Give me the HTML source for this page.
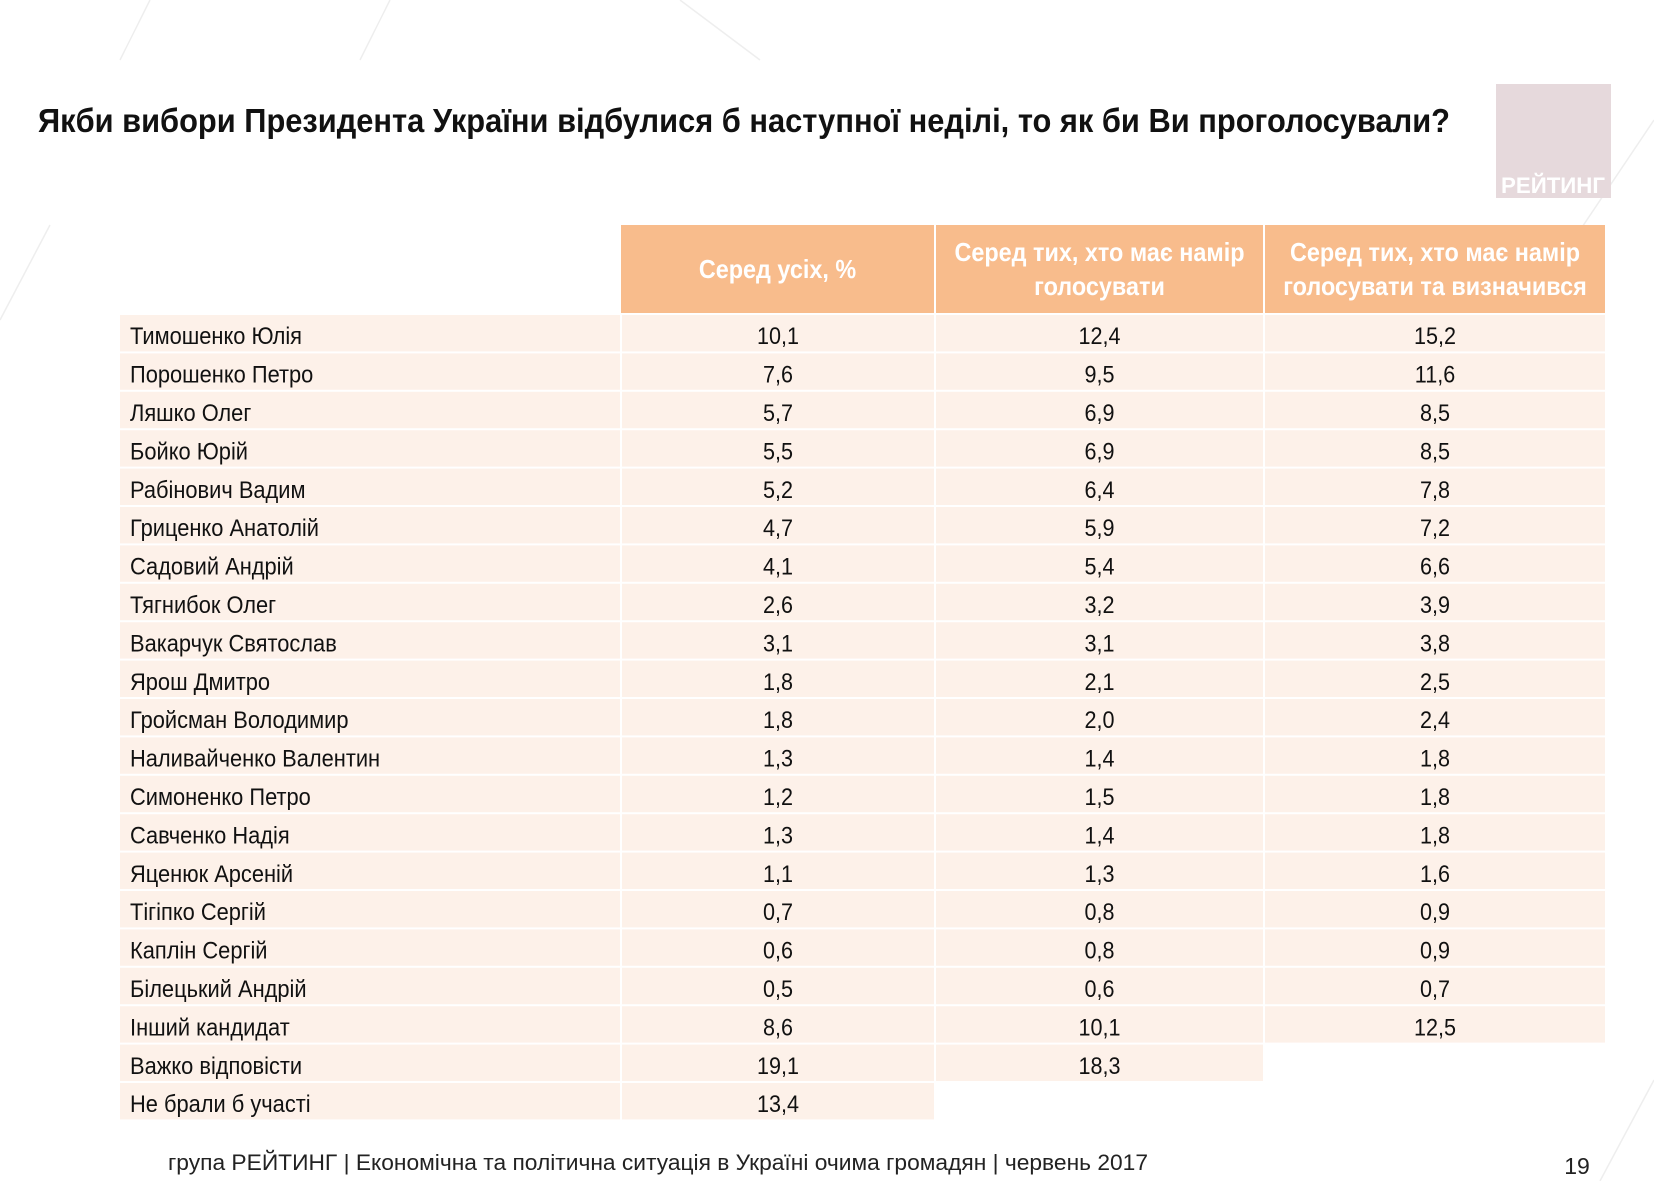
<!DOCTYPE html>
<html><head><meta charset="utf-8"><style>
html,body{margin:0;padding:0;background:#fff;}
svg{display:block;font-family:"Liberation Sans Narrow","Liberation Sans",sans-serif;}
</style></head><body>
<svg id="chart" width="1654" height="1181" viewBox="0 0 1654 1181" xmlns="http://www.w3.org/2000/svg">
<g stroke="#eeeeee" stroke-width="1.5">
<line x1="120" y1="60" x2="150" y2="0"/><line x1="360" y1="60" x2="390" y2="0"/><line x1="0" y1="320" x2="50" y2="225"/><line x1="1560" y1="260" x2="1654" y2="120"/><line x1="1600" y1="1181" x2="1654" y2="1080"/><line x1="680" y1="0" x2="760" y2="60"/>
</g>
<text x="38" y="132" font-size="33" font-weight="bold" fill="#111" textLength="1412" lengthAdjust="spacingAndGlyphs">Якби вибори Президента України відбулися б наступної неділі, то як би Ви проголосували?</text>
<g>
<rect x="1496" y="84" width="115" height="114" fill="#e6d9dc"/>
<text x="1553" y="193" font-size="22" font-weight="bold" fill="#fff" text-anchor="middle" textLength="104" lengthAdjust="spacingAndGlyphs">РЕЙТИНГ</text>
</g>
<g id="header"></g>
<g id="rows"></g>
<text x="168" y="1170" font-size="22" fill="#222" textLength="980" lengthAdjust="spacingAndGlyphs">група РЕЙТИНГ  |  Економічна та політична ситуація в Україні очима громадян  |  червень 2017</text>
<text x="1577" y="1174" font-size="23" fill="#222" text-anchor="middle">19</text>
</svg>
<script>
const names = ["Тимошенко Юлія","Порошенко Петро","Ляшко Олег","Бойко Юрій","Рабінович Вадим","Гриценко Анатолій","Садовий Андрій","Тягнибок Олег","Вакарчук Святослав","Ярош Дмитро","Гройсман Володимир","Наливайченко Валентин","Симоненко Петро","Савченко Надія","Яценюк Арсеній","Тігіпко Сергій","Каплін Сергій","Білецький Андрій","Інший кандидат","Важко відповісти","Не брали б участі"];
const allValues = [10.1,7.6,5.7,5.5,5.2,4.7,4.1,2.6,3.1,1.8,1.8,1.3,1.2,1.3,1.1,0.7,0.6,0.5,8.6,19.1,13.4];
const votersValues = [12.4,9.5,6.9,6.9,6.4,5.9,5.4,3.2,3.1,2.1,2.0,1.4,1.5,1.4,1.3,0.8,0.8,0.6,10.1,18.3,null];
const decidedValues = [15.2,11.6,8.5,8.5,7.8,7.2,6.6,3.9,3.8,2.5,2.4,1.8,1.8,1.8,1.6,0.9,0.9,0.7,12.5,null,null];
const headers = [["Серед усіх, %"],["Серед тих, хто має намір","голосувати"],["Серед тих, хто має намір","голосувати та визначився"]];

const NS="http://www.w3.org/2000/svg";
const colX=[120,621,935,1264,1606];
const headTop=225, headBot=313, rowTop=315, rowH=38.4;
function mk(tag,attrs,parent){const e=document.createElementNS(NS,tag);for(const k in attrs)e.setAttribute(k,attrs[k]);parent.appendChild(e);return e;}
function squeeze(t,f){const w=t.getComputedTextLength();t.setAttribute('textLength',(w*f).toFixed(1));t.setAttribute('lengthAdjust','spacingAndGlyphs');}
const hg=document.getElementById('header'), rg=document.getElementById('rows');
headers.forEach((lines,i)=>{
  const x0=colX[i+1]+(i?1:0), x1=colX[i+2]-1;
  const r=mk('rect',{x:x0,y:headTop,width:x1-x0,height:headBot-headTop,fill:'#f8bc8c'},hg);
  
  
  lines.forEach((ln,j)=>{
    const cy=(headTop+headBot)/2+(lines.length===1?0:(j===0?-17:17))+9;
    const t=mk('text',{x:(x0+x1)/2,y:cy,'font-size':26,'font-weight':'bold',fill:'#fff','text-anchor':'middle'},hg);
    t.textContent=ln;
    
    
    squeeze(t,0.9);
  });
});
const fmt=v=>v.toFixed(1).replace('.',',');
names.forEach((n,i)=>{
  const y=rowTop+i*rowH;
  const vals=[allValues[i],votersValues[i],decidedValues[i]];
  const c0=mk('rect',{x:colX[0],y:y,width:colX[1]-colX[0]-1,height:rowH-2,fill:'#fdf1e9'},rg);
  
  
  const tn=mk('text',{x:colX[0]+10,y:y+rowH/2+10,'font-size':24,fill:'#111'},rg);
  tn.textContent=n;
  
  
  squeeze(tn,0.91);
  vals.forEach((v,k)=>{
    if(v===null)return;
    const x0=colX[k+1]+1, x1=colX[k+2]-1;
    const c=mk('rect',{x:x0,y:y,width:x1-x0,height:rowH-2,fill:'#fdf1e9'},rg);
    
    
    const t=mk('text',{x:(x0+x1)/2,y:y+rowH/2+10,'font-size':24,fill:'#111','text-anchor':'middle'},rg);
    t.textContent=fmt(v);
    
    
    squeeze(t,0.9);
  });
});
</script>
</body></html>
